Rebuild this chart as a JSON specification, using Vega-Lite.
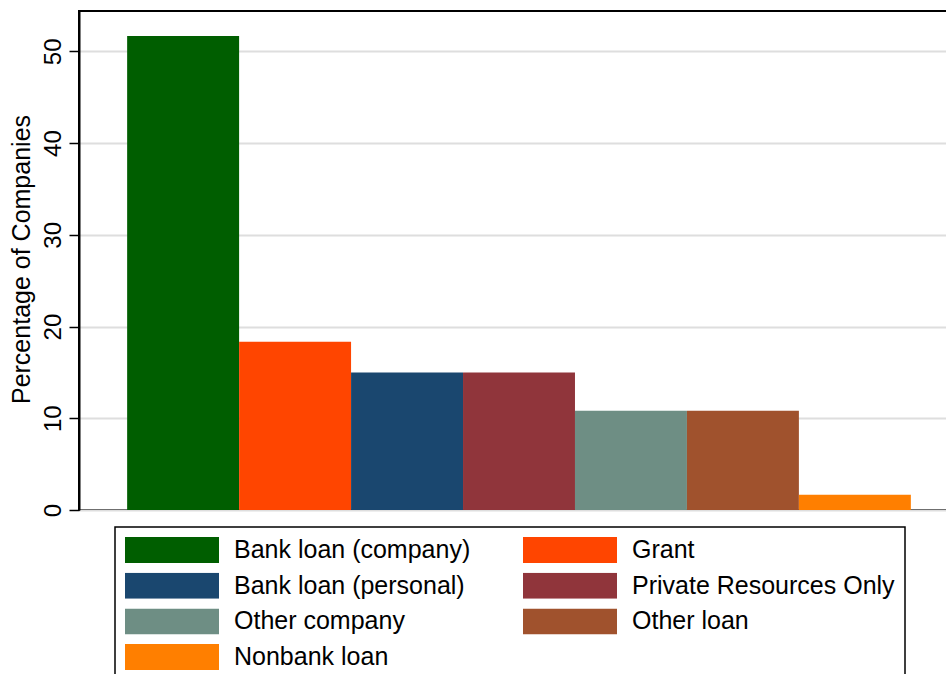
{
  "$schema": "https://vega.github.io/schema/vega-lite/v6.json",
  "autosize": "none",
  "padding": {"left": 79, "top": 11, "right": 0, "bottom": 164},
  "width": 880,
  "height": 499,
  "background": "white",
  "config": {
    "font": "Liberation Sans",
    "view": {"stroke": "#000000", "strokeWidth": 2}
  },
  "data": {
    "values": [
      {"source": "Bank loan (company)", "pct": 51.67},
      {"source": "Grant", "pct": 18.33},
      {"source": "Bank loan (personal)", "pct": 15.0},
      {"source": "Private Resources Only", "pct": 15.0},
      {"source": "Other company", "pct": 10.83},
      {"source": "Other loan", "pct": 10.83},
      {"source": "Nonbank loan", "pct": 1.67}
    ]
  },
  "mark": {"type": "bar", "strokeWidth": 0},
  "encoding": {
    "x": {
      "field": "source",
      "type": "nominal",
      "sort": null,
      "scale": {"paddingInner": 0, "paddingOuter": 0.43},
      "axis": null
    },
    "y": {
      "field": "pct",
      "type": "quantitative",
      "scale": {"domain": [0, 54.4], "nice": false, "zero": true},
      "axis": {
        "title": "Percentage of Companies",
        "values": [0, 10, 20, 30, 40, 50],
        "labelAngle": 270,
        "labelAlign": "center",
        "labelBaseline": "bottom",
        "labelFontSize": 24,
        "labelColor": "#000000",
        "labelPadding": 4,
        "tickSize": 10,
        "tickWidth": 1.5,
        "tickColor": "#000000",
        "domainColor": "#000000",
        "domainWidth": 2,
        "grid": true,
        "gridColor": "#dedede",
        "gridWidth": 2,
        "titleFontSize": 25,
        "titleFontWeight": "normal",
        "titleColor": "#000000",
        "titleAngle": 270,
        "titleAlign": "center",
        "titleBaseline": "alphabetic",
        "titleX": -50,
        "titleY": 248
      }
    },
    "color": {
      "field": "source",
      "type": "nominal",
      "sort": null,
      "scale": {
        "domain": ["Bank loan (company)", "Grant", "Bank loan (personal)", "Private Resources Only", "Other company", "Other loan", "Nonbank loan"],
        "range": ["#005e00", "#ff4500", "#1a476f", "#90353b", "#6e8e84", "#a0522d", "#ff7f00"]
      },
      "legend": {
        "title": null,
        "orient": "none",
        "legendX": 36,
        "legendY": 516,
        "direction": "horizontal",
        "columns": 2,
        "symbolType": "M-1,-0.2766H1V0.2766H-1Z",
        "symbolSize": 8836,
        "symbolStrokeWidth": 0,
        "symbolOpacity": 1,
        "clipHeight": 26,
        "rowPadding": 9.7,
        "columnPadding": 52,
        "labelOffset": 15,
        "labelFontSize": 25,
        "labelColor": "#000000",
        "labelLimit": 400,
        "labelBaseline": "middle",
        "padding": 10,
        "strokeColor": "#000000",
        "encode": {
          "legend": {"update": {"strokeWidth": {"value": 1.5}}}
        }
      }
    }
  }
}
